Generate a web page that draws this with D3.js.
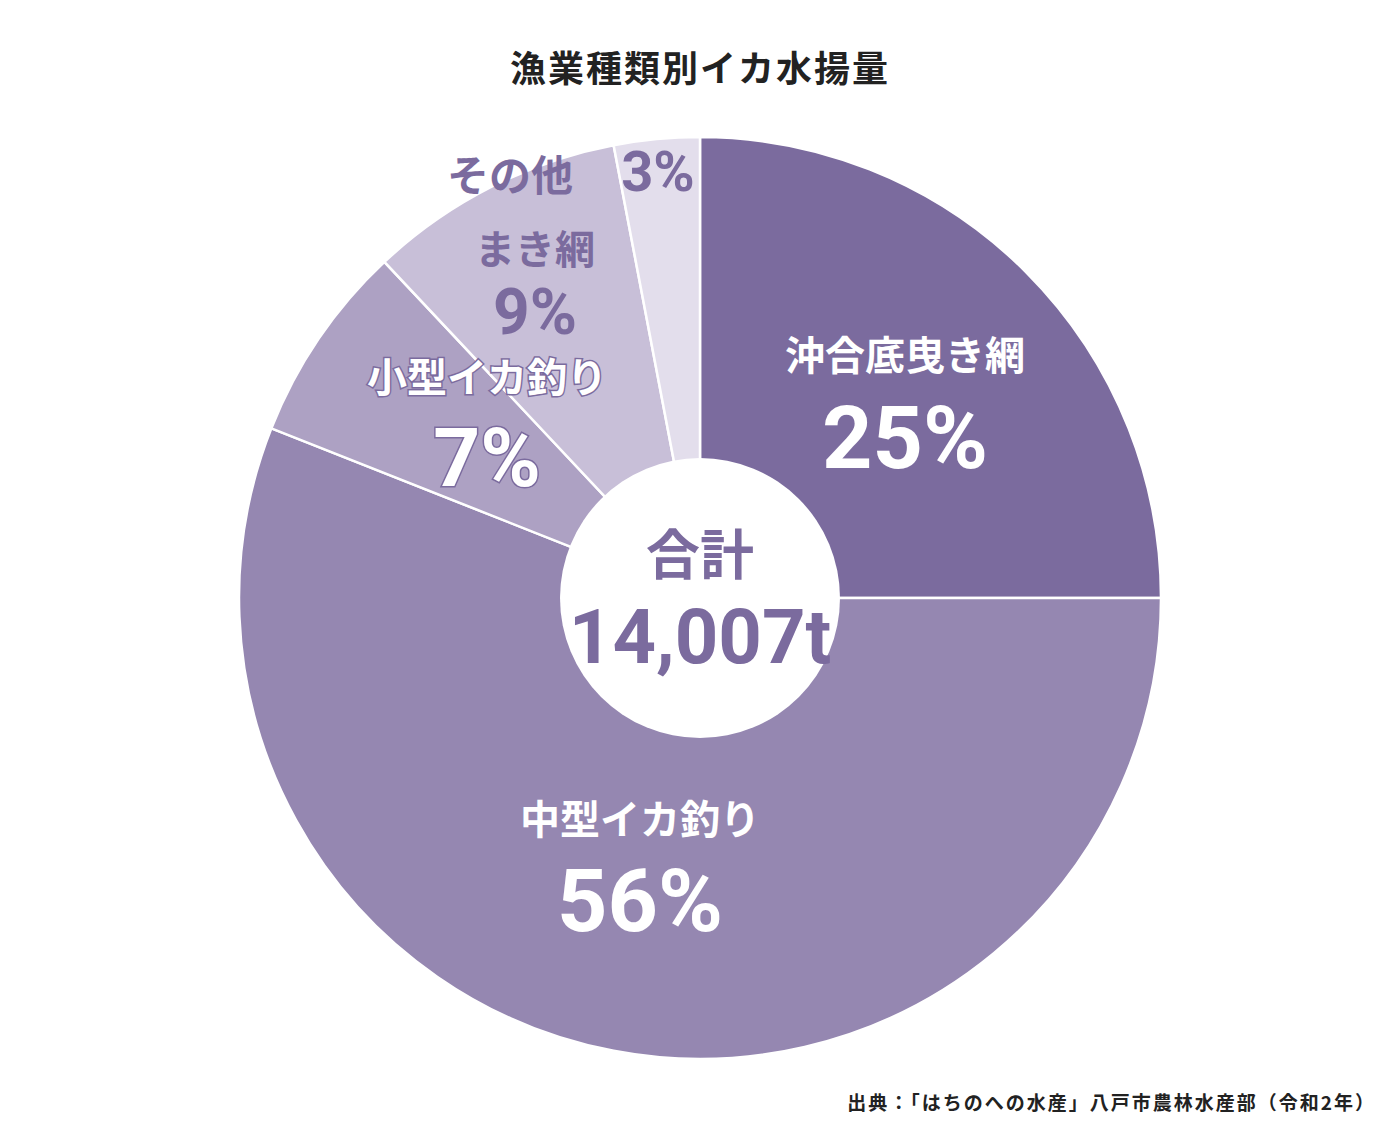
<!DOCTYPE html>
<html><head><meta charset="utf-8">
<script src="https://cdn.jsdelivr.net/npm/d3@7"></script>
<style>
body{margin:0;background:#fff;}
text{font-family:"Noto Sans CJK JP",sans-serif;}
.num{font-family:"Liberation Sans Narrow","Roboto",sans-serif;font-weight:bold;}
</style></head>
<body>
<script>
var categories = ["沖合底曳き網", "中型イカ釣り", "小型イカ釣り", "まき網", "その他"];
var shares = [25, 56, 7, 9, 3];
var colors = ["#7b6b9e", "#9587b1", "#ada1c3", "#c8bfd8", "#e3deec"];
var totalLabel = "14,007t";

var W = 1400, H = 1140, cx = 700, cy = 598, R = 461, r0 = 140;
var svg = d3.select("body").append("svg").attr("width", W).attr("height", H);

svg.append("text").attr("x", 700).attr("y", 82).attr("text-anchor", "middle")
  .attr("font-size", 36).attr("font-weight", "bold").attr("fill", "#222")
  .attr("letter-spacing", 2).text("漁業種類別イカ水揚量");

var g = svg.append("g").attr("transform", "translate(" + cx + "," + cy + ")");
var pie = d3.pie().sort(null).value(function(d) { return d; });
var arc = d3.arc().innerRadius(0).outerRadius(R);
g.selectAll("path").data(pie(shares)).enter().append("path")
  .attr("d", arc).attr("fill", function(d, i) { return colors[i]; })
  .attr("stroke", "#fff").attr("stroke-width", 2.5);

g.append("circle").attr("r", r0).attr("fill", "#fff");

// label positions (name, pct) relative to center
var labelPos = [
  {x: 205, ny: -228, py: -130, ns: 40, ps: 88, col: "#fff"},
  {x: -60, ny: 236, py: 333, ns: 40, ps: 88, col: "#fff"},
  {x: -213, ny: -206, py: -112, ns: 40, ps: 82, col: "#fff", outline: true},
  {x: -165, ny: -334, py: -264, ns: 40, ps: 64, col: "#7b6b9e"},
  {x: -160, ny: -407, py: -407, ns: 42, ps: 56, col: "#7b6b9e"}
];

labelPos.forEach(function(p, i) {
  var name = g.append("text").attr("text-anchor", "middle")
    .attr("font-size", p.ns).attr("font-weight", "bold").attr("fill", p.col)
    .attr("x", i == 4 ? p.x - 30 : p.x).attr("y", p.ny).text(categories[i]);
  var pct = g.append("text").attr("class", "num").attr("text-anchor", "middle")
    .attr("font-size", p.ps).attr("fill", p.col)
    .attr("x", i == 4 ? -42 : p.x).attr("y", p.py).text(shares[i] + "%");
  if (p.outline) {
    [name, pct].forEach(function(t) {
      t.attr("stroke", "#7b6b9e").attr("stroke-width", 3).attr("paint-order", "stroke");
    });
  }
});

g.append("text").attr("text-anchor", "middle").attr("y", -23)
  .attr("font-size", 54).attr("font-weight", "bold").attr("fill", "#7b6b9e").text("合計");
g.append("text").attr("class", "num").attr("text-anchor", "middle").attr("y", 65)
  .attr("font-size", 76).attr("font-weight", "normal").attr("fill", "#7b6b9e").text(totalLabel);

svg.append("text").attr("x", 1376).attr("y", 1110).attr("text-anchor", "end")
  .attr("font-size", 19).attr("font-weight", "bold").attr("fill", "#222")
  .attr("letter-spacing", 2).text("出典：「はちのへの水産」八戸市農林水産部（令和2年）");
</script>
</body></html>
